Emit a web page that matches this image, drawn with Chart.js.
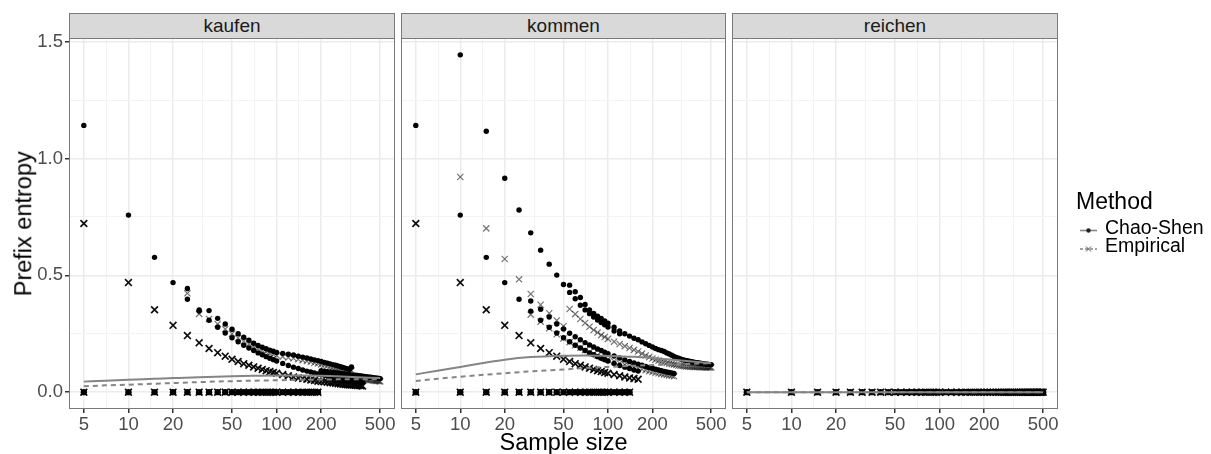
<!DOCTYPE html>
<html>
<head>
<meta charset="utf-8">
<script src="https://cdn.jsdelivr.net/npm/chart.js@4.4.1/dist/chart.umd.min.js"></script>
<style>
  body { margin: 0; background: #fff; width: 1211px; height: 454px; position: relative; overflow: hidden;
         font-family: "Liberation Sans", Arial, sans-serif; }
  canvas { position: absolute; }
  .strip { position: absolute; top: 13px; height: 26px; background: #d9d9d9; border: 1px solid #7a7a7a;
           box-sizing: border-box; text-align: center; font-size: 19px; line-height: 24px; color: #1a1a1a; }
  .txt { position: absolute; white-space: nowrap; color: #000; }
</style>
</head>
<body>
<canvas id="kaufen" width="415" height="436" style="left:0px;top:18px"></canvas>
<canvas id="kommen" width="365" height="436" style="left:381px;top:18px"></canvas>
<canvas id="reichen" width="366" height="436" style="left:712px;top:18px"></canvas>

<div class="strip" style="left:69px;width:326px">kaufen</div>
<div class="strip" style="left:401px;width:325px">kommen</div>
<div class="strip" style="left:732px;width:326px">reichen</div>

<div class="txt" style="left:-126.3px;top:211.75px;width:300px;height:23.5px;font-size:23.5px;line-height:23.5px;text-align:center;transform:rotate(-90deg)">Prefix entropy</div>
<div class="txt" style="left:363.5px;top:431px;width:400px;font-size:23.5px;line-height:23.5px;text-align:center">Sample size</div>

<div class="txt" style="left:1076px;top:190px;font-size:23px;line-height:23px">Method</div>
<svg style="position:absolute;left:1078px;top:221px" width="22" height="38">
  <line x1="2" y1="9.5" x2="19" y2="9.5" stroke="#858585" stroke-width="1.6"/>
  <circle cx="10.5" cy="9.5" r="2.2" fill="#222"/>
  <line x1="2" y1="28" x2="19" y2="28" stroke="#858585" stroke-width="1.6" stroke-dasharray="3,2"/>
  <path d="M8 25.5 L13 30.5 M13 25.5 L8 30.5" stroke="#555" stroke-width="1"/>
</svg>
<div class="txt" style="left:1105px;top:217.5px;font-size:19.5px;line-height:19.5px">Chao-Shen</div>
<div class="txt" style="left:1105px;top:235.8px;font-size:19.5px;line-height:19.5px">Empirical</div>

<script>
// sample sizes on the x axis (step 5 up to 100, then step 10)
const sampleSizes = [5,10,15,20,25,30,35,40,45,50,55,60,65,70,75,80,85,90,95,100,
  110,120,130,140,150,160,170,180,190,200,210,220,230,240,250,260,270,280,290,300,
  310,320,330,340,350,360,370,380,390,400,410,420,430,440,450,460,470,480,490,500];

const xMajor = [5, 10, 20, 50, 100, 200, 500];
const xMinor = [7.07, 14.14, 31.62, 70.71, 141.42, 316.23];
const yMajor = [0, 0.5, 1, 1.5];
const yMinor = [0.25, 0.75, 1.25];

// prefix with a single rare type (shared by kaufen and kommen), starts at 5
const singletonCS = [1.142,0.758,0.577,0.469,0.398,0.347,0.308,0.278,0.253,0.233,
  0.216,0.201,0.189,0.178,0.168,0.160,0.152,0.145,0.139,0.133,
  0.123,0.114,0.107,0.101,0.095,0.090,0.086,0.082,0.078,0.075,
  0.072,0.069,0.066,0.064,0.062,0.060,0.058,0.056,0.054,0.053,
  0.051,0.050,0.049,0.048,0.046,0.045,0.044,0.043];
const singletonEmp = [0.722,0.469,0.353,0.286,0.242,0.211,0.187,0.169,0.154,0.141,
  0.131,0.122,0.115,0.108,0.102,0.097,0.092,0.088,0.084,0.081,
  0.075,0.070,0.065,0.061,0.058,0.055,0.052,0.050,0.047,0.045,
  0.044,0.042,0.040,0.039,0.038,0.036,0.035,0.034,0.033,0.032,
  0.031,0.031,0.030,0.029,0.028,0.028,0.027,0.026];

// kaufen
const kaufenZero = [0,0,0,0,0,0,0,0,0,0,0,0,0,0,0,0,0,0,0,0,0,0,0,0,0,0,0,0,0];
const kaufenSingletonLast = 380;
const kaufenUpperCS = [0.444,0.352,0.349,0.316,0.292,0.269,
  0.250,0.235,0.222,0.209,0.200,0.192,0.186,0.180,0.175,0.170,
  0.166,0.162,0.159,0.154,0.150,0.146,0.142,0.138,0.135,0.131,
  0.127,0.124,0.121,0.118,0.115,0.112,0.109,0.106,0.103,0.100,
  0.097,0.108];
const kaufenUpperEmp = [0.423,0.335,0.313,0.292,0.270,0.250,
  0.232,0.218,0.206,0.195,0.186,0.178,0.172,0.166,0.161,0.157,
  0.152,0.148,0.145,0.141,0.137,0.133,0.130,0.126,0.123,0.119,
  0.116,0.113,0.110,0.107,0.104,0.101,0.098,0.095,0.092,0.089,
  0.086,0.092];
const kaufenLateCS = [0.092,0.090,0.088,0.086,0.085,0.083,0.082,0.080,0.079,0.078,
  0.076,0.075,0.074,0.073,0.072,0.071,0.070,0.069,0.068,0.067,
  0.066,0.065,0.064,0.064,0.063,0.062,0.061,0.060,0.060,0.059,0.058];
const kaufenLateEmp = [0.080,0.078,0.076,0.074,0.073,0.071,0.070,0.068,0.067,0.066,
  0.064,0.063,0.062,0.061,0.060,0.059,0.058,0.057,0.056,0.055,
  0.054,0.053,0.052,0.052,0.051,0.050,0.049,0.048,0.048,0.047,0.046];

// kommen
const kommenZero = [0,0,0,0,0,0,0,0,0,0,0,0,0,0,0,0,0,0,0,0,0,0,0,0];
const kommenSingletonLast = 160;
const kommenTopCS = [1.444,1.117,0.916,0.780,0.682,0.608,0.548,0.501,0.461,
  0.458,0.430,0.405,0.375,0.352,0.337,0.325,0.315,0.305,0.295,
  0.278,0.262,0.250,0.240,0.231,0.224,0.215,0.207,0.200,0.193,
  0.187,0.182,0.178,0.174,0.168,0.163,0.158,0.153,0.149,0.145,
  0.142,0.139,0.137,0.135,0.133,0.131,0.130,0.128,0.127,0.126,
  0.125,0.124,0.123,0.122,0.121,0.120,0.120,0.119,0.118,0.118];
const kommenTopEmp = [0.921,0.701,0.570,0.483,0.420,0.374,0.338,0.307,0.282,
  0.356,0.334,0.313,0.296,0.280,0.266,0.255,0.244,0.236,0.228,
  0.216,0.206,0.197,0.189,0.181,0.174,0.165,0.157,0.150,0.144,
  0.139,0.135,0.131,0.128,0.125,0.122,0.120,0.118,0.116,0.114,
  0.113,0.112,0.111,0.110,0.110,0.109,0.109,0.108,0.108,0.108,
  0.108,0.107,0.107,0.107,0.107,0.106,0.106,0.106,0.106,0.106];
const kommenMidCS = [0.390,0.355,0.322,0.292,0.270,0.252,0.237,0.224,0.212,0.202,0.193,0.185,0.178,0.171,0.165,
  0.155,0.146,0.138,0.131,0.125,0.120,0.115,0.110,0.106,0.102,0.098,0.095,0.092,0.089,0.086,0.084,0.082,0.080];
const kommenMidEmp = [0.332,0.302,0.274,0.248,0.230,0.214,0.201,0.190,0.180,0.172,0.164,0.157,0.151,0.145,0.140,
  0.132,0.124,0.117,0.111,0.106,0.102,0.098,0.094,0.090,0.087,0.083,0.081,0.078,0.076,0.073,0.071,0.070,0.068];
const kommenSecondCS = [0.427,0.400,0.372,0.352,0.336,0.322,0.309,0.298,0.288,0.279,0.262,0.250];

// reichen
const reichenZero = [0,0,0,0,0,0,0,0,0,0,0,0,0,0,0,0,0,0,0,0,0,0,0,0,0,0,0,0,0,0,
  0,0,0,0,0,0,0,0,0,0,0,0,0,0,0,0,0,0,0,0,0,0,0,0,0,0,0,0,0,0];

// smoothed trend lines
const smoothSizes = [5,7,10,15,20,30,50,70,100,150,200,300,500];
const kaufenSmoothCS  = [0.045,0.049,0.053,0.057,0.060,0.064,0.068,0.070,0.071,0.071,0.070,0.066,0.060];
const kaufenSmoothEmp = [0.025,0.029,0.032,0.036,0.039,0.043,0.047,0.049,0.051,0.053,0.054,0.055,0.055];
const kommenSmoothCS  = [0.076,0.092,0.108,0.127,0.139,0.150,0.156,0.157,0.155,0.151,0.146,0.137,0.124];
const kommenSmoothEmp = [0.048,0.057,0.066,0.075,0.081,0.089,0.097,0.103,0.108,0.113,0.116,0.120,0.124];
const reichenSmooth   = [0,0,0,0,0,0,0,0,0,0,0,0,0];

const FONT = '"Liberation Sans", Arial, sans-serif';

function series(values, firstSize, lastSize) {
  var start = sampleSizes.indexOf(firstSize);
  return values.map(function (v, k) { return { x: sampleSizes[start + k], y: v }; })
    .filter(function (p) { return lastSize === undefined || p.x <= lastSize; });
}
function trend(values) {
  return smoothSizes.map(function (s, k) { return { x: s, y: values[k] }; });
}
function circles(data, big) {
  return { data: data, pointStyle: "circle", pointRadius: big ? 3.2 : 2.7, pointBackgroundColor: "#000",
           pointBorderWidth: 0, order: 2 };
}
// dark = marks where several prefixes coincide
function crosses(data, dark) {
  return { data: data, pointStyle: "crossRot", pointRadius: dark ? 4.8 : 4.4,
           pointBorderColor: dark ? "rgba(0,0,0,0.95)" : "rgba(0,0,0,0.55)",
           pointBackgroundColor: "rgba(0,0,0,0)", pointBorderWidth: dark ? 1.7 : 1.2, order: 1 };
}
function smooth(data, dashed) {
  return { data: data, showLine: true, pointRadius: 0, borderColor: "#858585", borderWidth: 2,
           borderDash: dashed ? [5, 4] : [], cubicInterpolationMode: "monotone", fill: false, order: 0 };
}

// panel border drawn over the plot area
var panelFrame = {
  id: "panelFrame",
  afterDraw: function (chart) {
    var a = chart.chartArea, ctx = chart.ctx;
    ctx.save();
    ctx.strokeStyle = "#7a7a7a";
    ctx.lineWidth = 1;
    ctx.strokeRect(a.left + 0.5, a.top + 0.5, a.right - a.left - 1, a.bottom - a.top - 1);
    ctx.restore();
  }
};

function isMajor(list, ctx) {
  return ctx.tick && list.indexOf(ctx.tick.value) !== -1;
}

function makePanel(id, datasets, showY) {
  return new Chart(document.getElementById(id), {
    type: "scatter",
    data: { datasets: datasets },
    plugins: [panelFrame],
    options: {
      responsive: false,
      animation: false,
      events: [],
      layout: { padding: { left: showY ? 0 : 20, right: 20, top: 20, bottom: 0 } },
      plugins: { legend: { display: false }, tooltip: { enabled: false } },
      scales: {
        x: {
          type: "logarithmic",
          min: 3.97,
          max: 629.5,
          afterBuildTicks: function (s) {
            s.ticks = xMajor.concat(xMinor).sort(function (a, b) { return a - b; })
              .map(function (v) { return { value: v }; });
          },
          afterFit: function (s) { s.height = 45; },
          ticks: {
            autoSkip: false, maxRotation: 0, minRotation: 0, padding: 1,
            color: "#4d4d4d", font: { family: FONT, size: 18.5 },
            callback: function (v) { return xMajor.indexOf(v) !== -1 ? String(v) : ""; }
          },
          grid: {
            color: function (c) { return isMajor(xMajor, c) ? "#ebebeb" : "#f3f3f3"; },
            lineWidth: function (c) { return isMajor(xMajor, c) ? 1.5 : 1; },
            tickColor: function (c) { return isMajor(xMajor, c) ? "#333333" : "rgba(0,0,0,0)"; },
            tickLength: 4
          },
          border: { display: false }
        },
        y: {
          type: "linear",
          min: -0.0722,
          max: 1.5162,
          afterBuildTicks: function (s) {
            s.ticks = yMajor.concat(yMinor).sort(function (a, b) { return a - b; })
              .map(function (v) { return { value: v }; });
          },
          afterFit: function (s) { s.width = showY ? 69 : 0; },
          ticks: {
            display: showY, padding: 2,
            color: "#4d4d4d", font: { family: FONT, size: 18.5 },
            callback: function (v) { return yMajor.indexOf(v) !== -1 ? v.toFixed(1) : ""; }
          },
          grid: {
            drawTicks: showY,
            color: function (c) { return isMajor(yMajor, c) ? "#ebebeb" : "#f3f3f3"; },
            lineWidth: function (c) { return isMajor(yMajor, c) ? 1.5 : 1; },
            tickColor: function (c) { return isMajor(yMajor, c) ? "#333333" : "rgba(0,0,0,0)"; },
            tickLength: 4
          },
          border: { display: false }
        }
      }
    }
  });
}

makePanel("kaufen", [
  smooth(trend(kaufenSmoothCS), false),
  smooth(trend(kaufenSmoothEmp), true),
  crosses(series(kaufenZero, 5), true),
  crosses(series(singletonEmp, 5, kaufenSingletonLast), true),
  crosses(series(kaufenUpperEmp, 25), false),
  crosses(series(kaufenLateEmp, 200), false),
  circles(series(kaufenZero, 5), true),
  circles(series(singletonCS, 5, kaufenSingletonLast)),
  circles(series(kaufenUpperCS, 25)),
  circles(series(kaufenLateCS, 200))
], true);

makePanel("kommen", [
  smooth(trend(kommenSmoothCS), false),
  smooth(trend(kommenSmoothEmp), true),
  crosses(series(kommenZero, 5), true),
  crosses(series(singletonEmp, 5, kommenSingletonLast), true),
  crosses(series(kommenTopEmp, 10), false),
  crosses(series(kommenMidEmp, 30), false),
  circles(series(kommenZero, 5), true),
  circles(series(singletonCS, 5, kommenSingletonLast)),
  circles(series(kommenTopCS, 10)),
  circles(series(kommenMidCS, 30)),
  circles(series(kommenSecondCS, 55))
], false);

makePanel("reichen", [
  smooth(trend(reichenSmooth), false),
  smooth(trend(reichenSmooth), true),
  crosses(series(reichenZero, 5), true),
  circles(series(reichenZero, 5), true)
], false);
</script>
</body>
</html>
